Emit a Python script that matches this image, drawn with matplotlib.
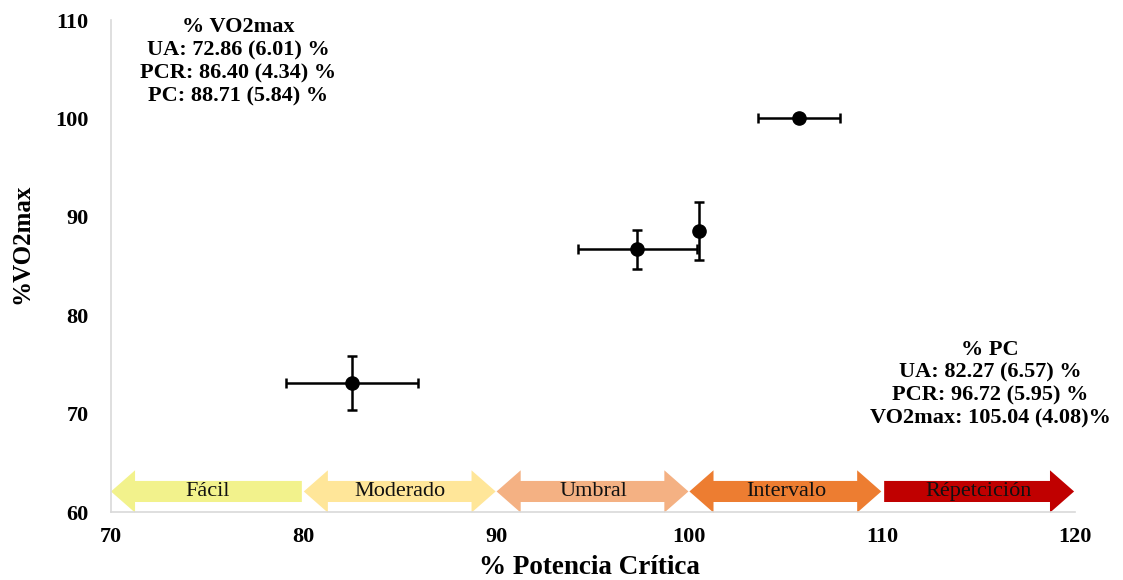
import matplotlib
matplotlib.use("Agg")
import matplotlib.pyplot as plt
from matplotlib.patches import Polygon

plt.rcParams['font.family'] = ['Liberation Serif', 'DejaVu Serif']

# Data
labels_pts = ["UA", "PCR", "PC", "VO2max"]
x_pc = [82.5, 97.3, 100.5, 105.7]
y_vo2 = [73.1, 86.7, 88.6, 100.0]
x_err = [3.4, 3.08, 0.0, 2.13]
y_err = [2.75, 2.0, 2.95, 0.0]

zone_names = ["Fácil", "Moderado", "Umbral", "Intervalo", "Répetcición"]
zone_start = [70, 80, 90, 100, 110]
zone_end = [80, 90, 100, 110, 120]
zone_colors = ["#F2F28C", "#FFE699", "#F4B183", "#ED7D31", "#C00000"]
zone_left_head = [True, True, True, True, False]
zone_right_head = [False, True, True, True, True]

x_ticks = [70, 80, 90, 100, 110, 120]
y_ticks = [60, 70, 80, 90, 100, 110]

txt_vo2 = ["% VO2max", "UA: 72.86 (6.01) %", "PCR: 86.40 (4.34) %", "PC: 88.71 (5.84) %"]
txt_pc = ["% PC", "UA: 82.27 (6.57) %", "PCR: 96.72 (5.95) %", "VO2max: 105.04 (4.08)%"]

fig = plt.figure(figsize=(11.23, 5.80), dpi=100)
ax = fig.add_axes([0.0988, 0.117, 0.8585, 0.8485])
ax.set_xlim(70, 120)
ax.set_ylim(60, 110)

# zone arrows
yc, sh, hh, hl = 62.1, 1.07, 2.15, 1.25
for name, x0, x1, col, lh, rh in zip(zone_names, zone_start, zone_end, zone_colors,
                                       zone_left_head, zone_right_head):
    a = x0 + (0.0 if lh else 0.1)
    b = x1 - (0.05 if rh else 0.1)
    pts = []
    if lh:
        pts += [(a, yc), (a + hl, yc + hh), (a + hl, yc + sh)]
    else:
        pts += [(a, yc + sh)]
    if rh:
        pts += [(b - hl, yc + sh), (b - hl, yc + hh), (b, yc), (b - hl, yc - hh), (b - hl, yc - sh)]
    else:
        pts += [(b, yc + sh), (b, yc - sh)]
    if lh:
        pts += [(a + hl, yc - sh), (a + hl, yc - hh)]
    else:
        pts += [(a, yc - sh)]
    ax.add_patch(Polygon(pts, closed=True, facecolor=col, edgecolor='none', zorder=2, clip_on=False))
    ax.text((x0 + x1) / 2, yc, name,
            ha='center', va='center', fontsize=16, color='#111111', zorder=3)

ax.errorbar(x_pc, y_vo2, xerr=x_err, yerr=y_err, fmt='o', color='black', ecolor='black',
            markersize=9.5, elinewidth=1.8, capsize=3.5, capthick=1.8, zorder=4)

ax.set_xticks(x_ticks)
ax.set_yticks(y_ticks)
ax.tick_params(length=0, labelsize=16)
for lab in ax.get_xticklabels() + ax.get_yticklabels():
    lab.set_fontweight('bold')
ax.tick_params(axis='x', pad=11)
ax.tick_params(axis='y', pad=16)

for s in ['top', 'right']:
    ax.spines[s].set_visible(False)
for s in ['left', 'bottom']:
    ax.spines[s].set_color('#D9D9D9')
    ax.spines[s].set_linewidth(1.2)

ax.set_xlabel("% Potencia Crítica", fontsize=19.5, fontweight='bold')
ax.xaxis.set_label_coords(589 / 1123 - 0.0988, 0, transform=fig.transFigure)
ax.xaxis.label.set_position((589 / 1123, 1 - 567 / 580))
ax.xaxis.label.set_va('center')
ax.set_ylabel("%VO2max", fontsize=18, fontweight='bold')
ax.yaxis.set_label_coords(22 / 1123, 1 - 244 / 580, transform=fig.transFigure)
ax.yaxis.label.set_va('center')

for i, t in enumerate(txt_vo2):
    fig.text(238 / 1123, 1 - (27 + i * 23.3) / 580, t, ha='center', va='center',
             fontsize=16, fontweight='bold')
for i, t in enumerate(txt_pc):
    fig.text(990 / 1123, 1 - (350 + i * 22.7) / 580, t, ha='center', va='center',
             fontsize=16, fontweight='bold')

fig.savefig("out.png", dpi=100)
